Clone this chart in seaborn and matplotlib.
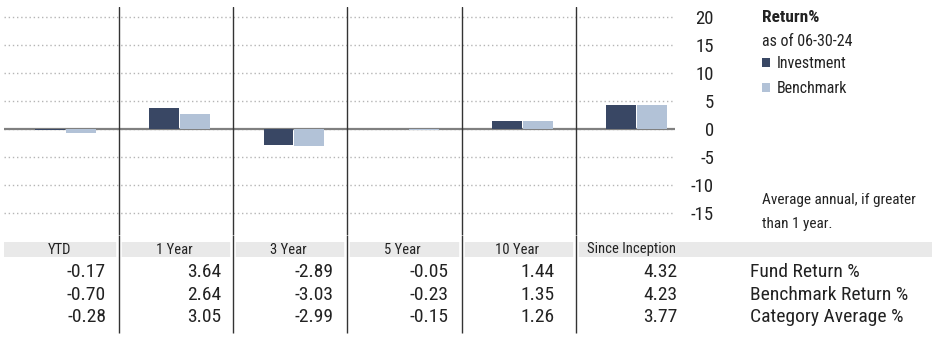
import numpy as np
import pandas as pd
import matplotlib
matplotlib.use("Agg")
import matplotlib.pyplot as plt
import seaborn as sns

# data
periods = ['YTD', '1 Year', '3 Year', '5 Year', '10 Year', 'Since Inception']
fund_return = [-0.17, 3.64, -2.89, -0.05, 1.44, 4.32]
bench_return = [-0.70, 2.64, -3.03, -0.23, 1.35, 4.23]
category_avg = [-0.28, 3.05, -2.99, -0.15, 1.26, 3.77]
row_labels = ['Fund Return %', 'Benchmark Return %', 'Category Average %']
y_ticks = [-15, -10, -5, 0, 5, 10, 15, 20]

navy = '#394764'
light = '#b2c2d7'

sns.set_theme(style='white')
plt.rcParams['font.family'] = ['Roboto Condensed', 'Fira Sans Condensed', 'DejaVu Sans']
plt.rcParams['text.color'] = '#222222'
plt.rcParams['axes.unicode_minus'] = False

df = pd.DataFrame({
    'period': periods * 2,
    'ret': fund_return + bench_return,
    'series': ['Investment'] * 6 + ['Benchmark'] * 6,
})

W, H = 942, 337
fig = plt.figure(figsize=(W / 100, H / 100), dpi=100)

# bar chart area (pixel layout of the reference)
ax = fig.add_axes([4 / W, 102 / H, 671 / W, 228 / H])
sns.barplot(data=df, x='period', y='ret', hue='series', palette=[navy, light],
            saturation=1, width=0.54, gap=0.03, linewidth=0, ax=ax, zorder=2)

x_left = -0.539
step = 114.2
ax.set_xlim(x_left, x_left + 671 / step)
ax.set_ylim(-18.98, 21.73)
ax.set_yticks(y_ticks)
ax.yaxis.grid(True, linestyle=(0, (1, 2)), color='#b5b5b5', lw=1)
ax.xaxis.grid(False)
ax.axhline(0, color='#808080', lw=1.6, zorder=1.5)
seps = np.arange(5) + 0.468
for s in seps:
    ax.axvline(s, color='#333333', lw=1, zorder=3)
for sp in ax.spines.values():
    sp.set_visible(False)
ax.set_xlabel('')
ax.set_ylabel('')
ax.set_xticks([])
ax.yaxis.tick_right()
ax.tick_params(axis='y', length=0, pad=28, labelsize=13.5, labelcolor='#222222')
for t in ax.get_yticklabels():
    t.set_ha('right')

handles, labels = ax.get_legend_handles_labels()
ax.legend(handles, labels, loc='upper left', bbox_to_anchor=(762 / W, 1 - 56 / H),
          bbox_transform=fig.transFigure, frameon=False, fontsize=11.5,
          handlelength=0.5, handleheight=0.5, handletextpad=0.4,
          labelspacing=0.65, borderpad=0, borderaxespad=0)

fig.text(762 / W, 1 - 17 / H, 'Return%', fontsize=12.5, weight='bold', va='center')
fig.text(762 / W, 1 - 41 / H, 'as of 06-30-24', fontsize=11.5, va='center')
fig.text(762 / W, 1 - 200 / H, 'Average annual, if greater', fontsize=11, va='center')
fig.text(762 / W, 1 - 224 / H, 'than 1 year.', fontsize=11, va='center')

# table below the chart
tax = fig.add_axes([4 / W, 0, 938 / W, 102 / H])
tax.set_xlim(x_left, x_left + 938 / step)
tax.set_ylim(102, 0)
tax.axis('off')
tax.axhspan(7, 22, xmin=0, xmax=928 / 938, color='#e9e9e9', lw=0)
tax.vlines(seps, 7, 22, color='white', lw=4)
tax.vlines(seps, 0, 98, color='#333333', lw=1)

for i, p in enumerate(periods[:-1]):
    tax.text(i - 0.05, 14.5, p, ha='center', va='center', fontsize=10.5)
tax.text(seps[4] + 0.1, 14.5, periods[-1], ha='left', va='center', fontsize=10.5)

val_right = [0.355, 0.36, 0.35, 0.35, 0.28, 0.36]
row_y = [37, 60, 82]
for row, y in zip([fund_return, bench_return, category_avg], row_y):
    for i, v in enumerate(row):
        tax.text(i + val_right[i], y, f'{v:.2f}', ha='right', va='center', fontsize=14)
for lab, y in zip(row_labels, row_y):
    tax.text(5.99, y, lab, ha='left', va='center', fontsize=14)

fig.savefig('out.png', dpi=100)
